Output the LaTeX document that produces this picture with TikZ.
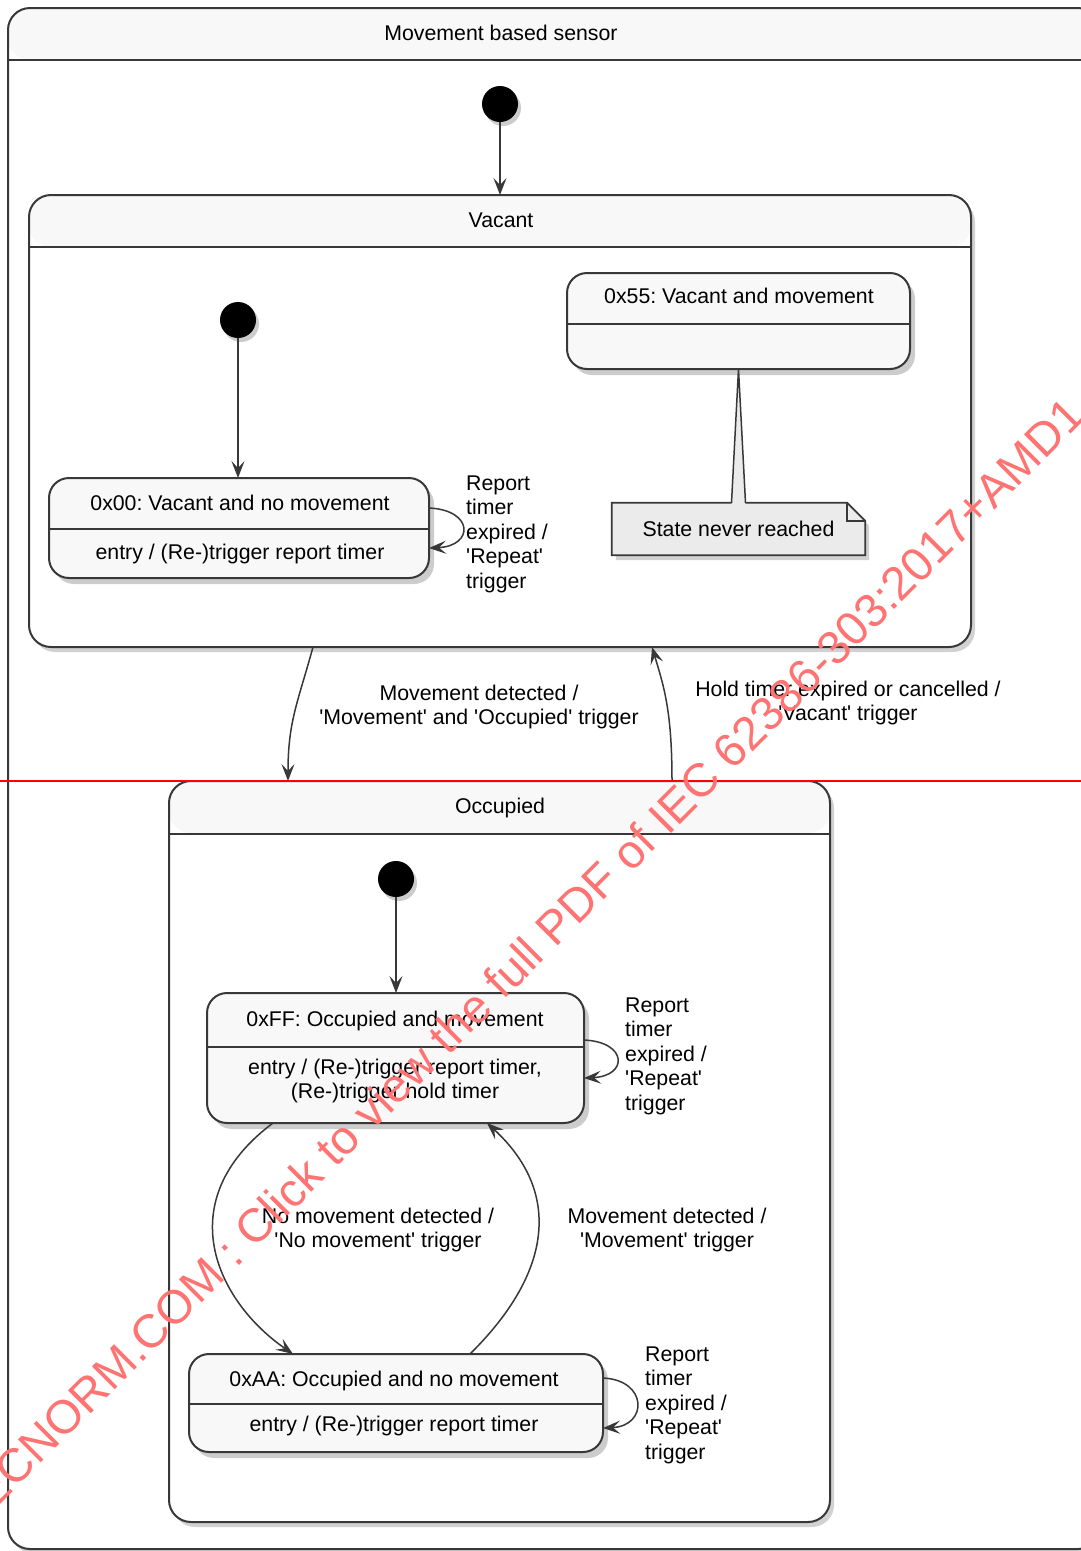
\documentclass[tikz,border=0pt]{standalone}
\usepackage{fontspec}
\setmainfont{Liberation Sans}
\usetikzlibrary{arrows.meta,shadows,positioning}
\frenchspacing

\definecolor{linegray}{HTML}{383838}
\definecolor{statefill}{HTML}{F8F8F8}
\definecolor{notefill}{HTML}{EBEBEB}
\definecolor{stampred}{HTML}{FF7373}

\newcommand{\squote}{\textquotesingle}

\tikzset{
  cbox/.style={draw=linegray, line width=2pt, fill=white, rounded corners=22pt, inner sep=0pt, outer sep=0pt,
    drop shadow={shadow xshift=4pt, shadow yshift=-5pt, fill=black, opacity=0.18},
    path picture={\fill[statefill] (path picture bounding box.north west) rectangle ([yshift=-52pt]path picture bounding box.north east);}},
  sbox/.style={draw=linegray, line width=2pt, fill=statefill, rounded corners=20pt, inner sep=0pt, outer sep=0pt,
    drop shadow={shadow xshift=5pt, shadow yshift=-6pt, fill=black, opacity=0.2}},
  sep/.style={draw=linegray, line width=2pt},
  txt/.style={inner sep=0pt, text height=17pt, text depth=2pt},
  lbl/.style={inner sep=0pt, align=center},
  loopl/.style={inner sep=0pt, align=left, anchor=west},
  startdot/.style={circle, fill=black, minimum size=36pt, inner sep=0pt, outer sep=0pt,
    drop shadow={shadow xshift=3pt, shadow yshift=-4pt, fill=black, opacity=0.2}},
  trans/.style={draw=linegray, line width=1.5pt, -{Stealth[length=17pt, width=13pt, inset=7pt]}},
  notebox/.style={draw=linegray, line width=1.8pt, fill=notefill,
    drop shadow={shadow xshift=4pt, shadow yshift=-5pt, fill=black, opacity=0.18}},
  noteline/.style={draw=linegray, line width=1.5pt},
  stamp/.style={inner sep=0pt, anchor=base west, rotate=45, text=stampred, font=\fontsize{47pt}{47pt}\selectfont},
}

\begin{document}
\begin{tikzpicture}[x=1pt, y=-1pt, every node/.append style={font=\fontsize{21.3pt}{24.5pt}\selectfont}]
  \useasboundingbox (0,0) rectangle (1081,1551);
  \fill[white] (0,0) rectangle (1081,1551);
  \clip (0,0) rectangle (1081,1551);

  % Outer composite state
  \node[cbox, minimum width=1092pt, minimum height=1541pt] (sensor) at (554,778.5) {};
  \draw[sep] ([yshift=-52pt]sensor.north west) -- ([yshift=-52pt]sensor.north east);
  \node[txt] (sensort) at (501,33) {Movement based sensor};
  \node[startdot] (init) at (500,104) {};

  % Vacant
  \node[cbox, minimum width=942pt, minimum height=452pt] (vac) at (500,421) {};
  \draw[sep] ([yshift=-52pt]vac.north west) -- ([yshift=-52pt]vac.north east);
  \node[txt] (vact) at (501,220) {Vacant};
  \draw[trans] (init) -- (vac.north);

  \node[startdot] (vinit) at (238,320) {};
  \node[sbox, minimum width=380pt, minimum height=100pt] (s00) at (239,528) {};
  \draw[sep] ([yshift=-51pt]s00.north west) -- ([yshift=-51pt]s00.north east);
  \node[txt] (s00t) at (240,503) {0x00: Vacant and no movement};
  \node[txt] (s00e) at (240,552) {entry / (Re-)trigger report timer};
  \draw[trans] (vinit) -- (vinit |- s00.north);
  \draw[trans] ([yshift=20pt]s00.east) .. controls +(45pt,-2pt) and +(45pt,2pt) .. ([yshift=-20pt]s00.east);
  \node[loopl] (s00l) at (466,534) {Report\\timer\\expired /\\\squote Repeat\squote\\trigger};

  \node[sbox, minimum width=343pt, minimum height=96pt] (s55) at (738.5,321) {};
  \draw[sep] ([yshift=-51pt]s55.north west) -- ([yshift=-51pt]s55.north east);
  \node[txt] (s55t) at (739,296) {0x55: Vacant and movement};

  % Note
  \node[inner sep=0pt, minimum width=253pt, minimum height=52pt] (note) at (738.5,529) {};
  \draw[notebox] (note.south west) -- (note.north west) -- ([xshift=-18pt]note.north east)
    -- ([yshift=-18pt]note.north east) -- (note.south east) -- cycle;
  \draw[noteline] ([xshift=-18pt]note.north east) -- ([xshift=-18pt,yshift=-18pt]note.north east) -- ([yshift=-18pt]note.north east);
  \fill[notefill] ([xshift=-7pt,yshift=-1.5pt]note.north) -- (s55.south) -- ([xshift=7pt,yshift=-1.5pt]note.north) -- cycle;
  \draw[noteline] ([xshift=-7pt]note.north) -- (s55.south) -- ([xshift=7pt]note.north);
  \node[txt] (notet) at (note) {State never reached};

  % Occupied
  \node[cbox, minimum width=661pt, minimum height=741pt] (occ) at (499.5,1151.5) {};
  \draw[sep] ([yshift=-53pt]occ.north west) -- ([yshift=-53pt]occ.north east);
  \node[txt] (occt) at (500,806) {Occupied};

  % Transitions between Vacant and Occupied
  \draw[trans] ([xshift=-187pt]vac.south) .. controls +(-15pt,-55pt) and +(0pt,60pt) .. ([xshift=-211.5pt]occ.north);
  \node[lbl] (l1) at (479,707) {Movement detected /\\\squote Movement\squote{} and \squote Occupied\squote{} trigger};
  \draw[trans] ([xshift=172.5pt]occ.north) .. controls +(0pt,70pt) and +(12pt,-40pt) .. ([xshift=152pt]vac.south);
  \node[lbl] (l2) at (848,703) {Hold timer expired or cancelled /\\\squote Vacant\squote{} trigger};

  \node[startdot] (oinit) at (396,879) {};
  \node[sbox, minimum width=377pt, minimum height=130pt] (sFF) at (395.5,1058) {};
  \draw[sep] ([yshift=-54pt]sFF.north west) -- ([yshift=-54pt]sFF.north east);
  \node[txt] (sFFt) at (395,1019) {0xFF: Occupied and movement};
  \node[lbl] (sFFe) at (395,1081) {entry / (Re-)trigger report timer,\\(Re-)trigger hold timer};
  \draw[trans] (oinit) -- (oinit |- sFF.north);
  \draw[trans] ([yshift=18pt]sFF.east) .. controls +(44pt,-2pt) and +(44pt,2pt) .. ([yshift=-20pt]sFF.east);
  \node[loopl] (sFFl) at (625,1056) {Report\\timer\\expired /\\\squote Repeat\squote\\trigger};

  \node[sbox, minimum width=414pt, minimum height=98pt] (sAA) at (396,1403) {};
  \draw[sep] ([yshift=-50pt]sAA.north west) -- ([yshift=-50pt]sAA.north east);
  \node[txt] (sAAt) at (394,1379) {0xAA: Occupied and no movement};
  \node[txt] (sAAe) at (394,1424) {entry / (Re-)trigger report timer};
  \draw[trans] ([yshift=25pt]sAA.east) .. controls +(45pt,-2pt) and +(45pt,2pt) .. ([yshift=-25pt]sAA.east);
  \node[loopl] (sAAl) at (645,1405) {Report\\timer\\expired /\\\squote Repeat\squote\\trigger};

  % Transitions inside Occupied
  \draw[trans] ([xshift=-122.5pt]sFF.south) .. controls +(-103pt,-77pt) and +(-78pt,54pt) .. ([xshift=-103pt]sAA.north);
  \node[lbl] (l3) at (378,1230) {No movement detected /\\\squote No movement\squote{} trigger};
  \draw[trans] ([xshift=74pt]sAA.north) .. controls +(85pt,84pt) and +(73pt,-67pt) .. ([xshift=91.5pt]sFF.south);
  \node[lbl] (l4) at (667,1230) {Movement detected /\\\squote Movement\squote{} trigger};

  % Stamp
  \coordinate (cutl) at (0,781);
  \coordinate (cutr) at (1081,781);
  \draw[red, line width=2pt] (cutl) -- (cutr);
  \node[stamp] (wm) at (-17,1521.5) {IECNORM.COM : Click to view the full PDF of IEC 62386-303:2017+AMD1};
\end{tikzpicture}
\end{document}
